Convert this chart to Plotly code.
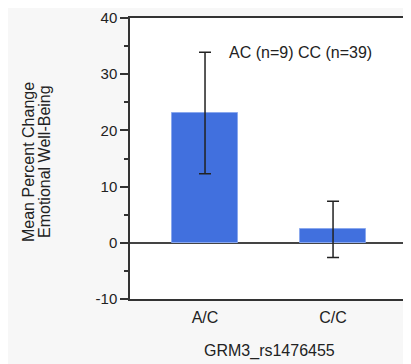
import plotly.graph_objects as go

categories = ["A/C", "C/C"]
means = [23.1, 2.4]
errors = [10.8, 5.0]
y_ticks = [-10, 0, 10, 20, 30, 40]
y_tick_labels = ["-10", "0", "10", "20", "30", "40"]
x_title = "GRM3_rs1476455"
y_title_lines = ["Mean Percent Change", "Emotional Well-Being"]
note = "AC (n=9) CC (n=39)"

FONT = "Liberation Sans, Arial, sans-serif"
TXT = "#222222"

fig = go.Figure()
fig.add_trace(go.Bar(
    x=categories, y=means, width=0.52,
    marker=dict(color="#4170de", line=dict(color="#8aa8ee", width=1)),
    error_y=dict(type="data", array=errors, visible=True, color="#222222",
                 thickness=1.5, width=6),
))

# page body has an 8px margin; figure coordinates below are page coords minus 8
OFF = 8
L, R, T, B = 122, 0, 10, 65
W, H = 403, 356
pw, ph = W - L - R, H - T - B

def px_x(x):
    return (x - OFF - L) / pw

def px_y(y):
    return (H - B - (y - OFF)) / ph

annotations = [
    dict(text=note, x=px_x(300), y=px_y(52), xref="paper", yref="paper",
         showarrow=False, xanchor="center", yanchor="middle",
         font=dict(family=FONT, size=16, color=TXT)),
    dict(text=x_title, x=px_x(269), y=px_y(351), xref="paper", yref="paper",
         showarrow=False, xanchor="center", yanchor="middle",
         font=dict(family=FONT, size=16, color=TXT)),
    dict(text=y_title_lines[0], x=px_x(28), y=px_y(162), xref="paper", yref="paper",
         showarrow=False, xanchor="center", yanchor="middle", textangle=-90,
         font=dict(family=FONT, size=16, color=TXT)),
    dict(text=y_title_lines[1], x=px_x(44), y=px_y(162), xref="paper", yref="paper",
         showarrow=False, xanchor="center", yanchor="middle", textangle=-90,
         font=dict(family=FONT, size=16, color=TXT)),
]

fig.update_layout(
    width=W, height=H,
    margin=dict(l=L, r=R, t=T, b=B, pad=0),
    paper_bgcolor="#f7f7f7", plot_bgcolor="white",
    showlegend=False,
    annotations=annotations,
    font=dict(family=FONT, color=TXT),
    bargap=0,
)
fig.update_xaxes(
    range=[-0.586, 1.609], showline=True, linecolor="#333333", linewidth=1.5,
    mirror=True, ticks="", showgrid=False, zeroline=False,
    tickfont=dict(family=FONT, size=16, color=TXT), ticklabelstandoff=3,
)
fig.update_yaxes(
    range=[-10, 40], tickvals=y_ticks, ticktext=y_tick_labels,
    showline=True, linecolor="#333333", linewidth=1.5,
    mirror=False, ticks="outside", ticklen=8, tickwidth=1.5, tickcolor="#333333",
    showgrid=False, zeroline=True, zerolinecolor="#444444", zerolinewidth=1.5,
    minor=dict(dtick=5, ticks="outside", ticklen=4, tickwidth=1.5, tickcolor="#333333", showgrid=False),
    tickfont=dict(family=FONT, size=15, color=TXT),
)

fig.write_html("out.html")
